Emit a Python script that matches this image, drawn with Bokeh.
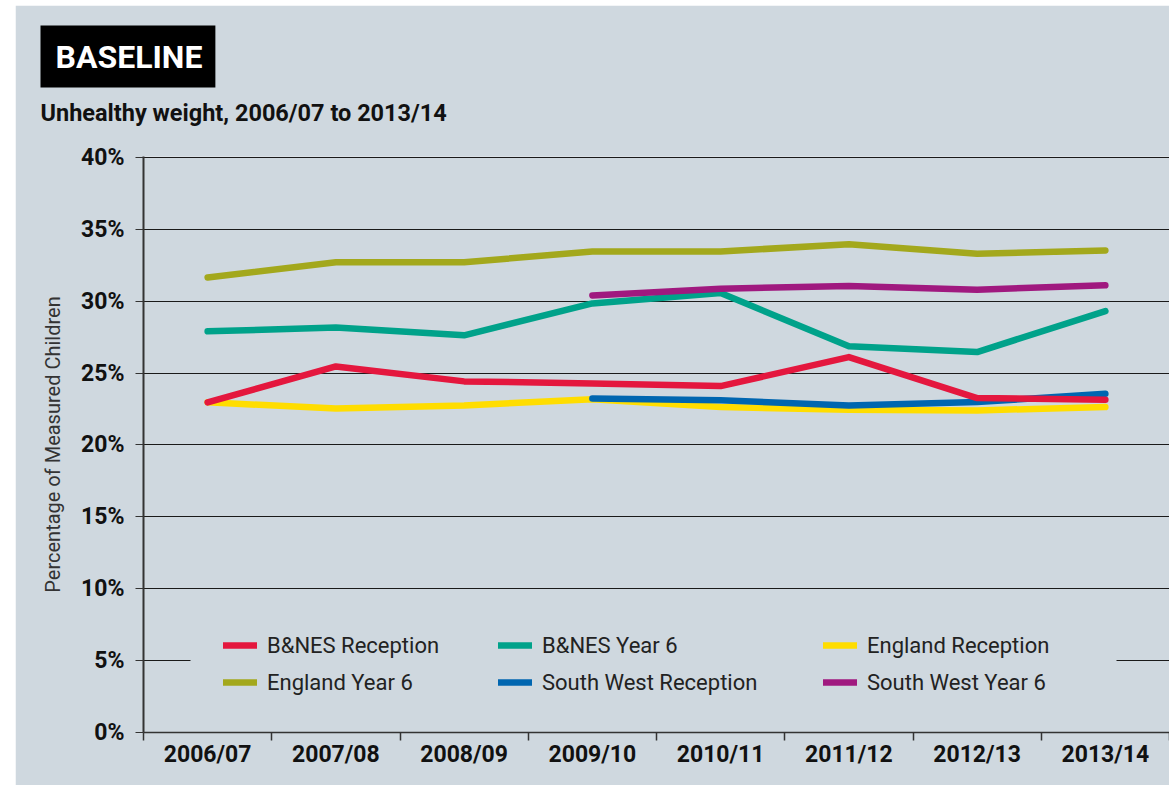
from bokeh.plotting import figure
from bokeh.models import (Range1d, FixedTicker, Legend, LegendItem, Title,
                          BoxAnnotation, PrintfTickFormatter)
from bokeh.embed import file_html
from bokeh.resources import INLINE

nan = float("nan")

# ---- data -------------------------------------------------------------
years = ["2006/07", "2007/08", "2008/09", "2009/10",
         "2010/11", "2011/12", "2012/13", "2013/14"]
bnes_reception = [22.96, 25.46, 24.42, 24.28, 24.09, 26.11, 23.26, 23.14]
bnes_year6 = [27.90, 28.17, 27.62, 29.84, 30.56, 26.87, 26.46, 29.31]
england_reception = [22.96, 22.54, 22.75, 23.17, 22.63, 22.45, 22.40, 22.63]
england_year6 = [31.65, 32.70, 32.70, 33.46, 33.46, 33.95, 33.30, 33.53]
sw_reception = [nan, nan, nan, 23.23, 23.10, 22.75, 22.98, 23.56]
sw_year6 = [nan, nan, nan, 30.40, 30.87, 31.05, 30.80, 31.10]
y_ticks = [0, 5, 10, 15, 20, 25, 30, 35, 40]

title_text = "BASELINE"
subtitle_text = "Unhealthy weight, 2006/07 to 2013/14"

BG = "#cfd8df"
FONT = "Roboto"

x = list(range(len(years)))

p = figure(width=1154, height=780, output_backend="svg", toolbar_location=None,
           x_range=Range1d(-0.5, len(years) - 0.5), y_range=Range1d(0, 40.06),
           min_border_left=128, min_border_right=0, min_border_top=0,
           min_border_bottom=53)
p.margin = (5, 0, 0, 15)
p.background_fill_color = BG
p.border_fill_color = BG
p.outline_line_color = None

# ---- titles (stacked above the frame, first = nearest) -----------------
# spacer between frame and subtitle
p.add_layout(Title(text=" ", align="left", standoff=15,
                   text_font=FONT, text_font_size="10px"), "above")
p.add_layout(Title(text=subtitle_text, align="left", offset=-103,
                   vertical_align="top", standoff=0,
                   text_font=FONT, text_font_size="23.5px",
                   text_font_style="bold", text_color="#111111"), "above")
p.add_layout(Title(text=title_text, align="left", offset=-103,
                   vertical_align="bottom", standoff=22,
                   text_font=FONT, text_font_size="32px",
                   text_font_style="bold", text_color="white",
                   background_fill_color="black",
                   padding=dict(left=15, right=13, top=12, bottom=12)), "above")
# spacer at the very top
p.add_layout(Title(text=" ", align="left", standoff=0,
                   text_font=FONT, text_font_size="4px"), "above")

# ---- axes -------------------------------------------------------------
p.xaxis.ticker = FixedTicker(ticks=x, minor_ticks=[i - 0.5 for i in range(len(years) + 1)])
p.xaxis.major_label_overrides = {i: yr for i, yr in enumerate(years)}
p.xaxis.major_tick_out = 0
p.xaxis.major_tick_in = 0
p.xaxis.minor_tick_out = 8
p.xaxis.minor_tick_in = 0
p.xaxis.minor_tick_line_color = "#333333"
p.xaxis.minor_tick_line_width = 1.5
p.xaxis.major_label_standoff = 0
p.xaxis.major_label_text_font = FONT
p.xaxis.major_label_text_font_size = "23px"
p.xaxis.major_label_text_font_style = "bold"
p.xaxis.major_label_text_color = "#111111"
p.xaxis.axis_line_color = "#333333"
p.xaxis.axis_line_width = 1.5

p.yaxis.ticker = FixedTicker(ticks=y_ticks)
p.yaxis.formatter = PrintfTickFormatter(format="%d%%")
p.yaxis.major_tick_out = 8
p.yaxis.major_tick_in = 0
p.yaxis.minor_tick_out = 0
p.yaxis.minor_tick_in = 0
p.yaxis.major_tick_line_color = "#333333"
p.yaxis.major_label_standoff = 11
p.yaxis.major_label_text_font = FONT
p.yaxis.major_label_text_font_size = "23px"
p.yaxis.major_label_text_font_style = "bold"
p.yaxis.major_label_text_color = "#111111"
p.yaxis.axis_line_color = "#333333"
p.yaxis.axis_line_width = 2
p.yaxis.axis_label = "Percentage of Measured Children"
p.yaxis.axis_label_text_font = FONT
p.yaxis.axis_label_text_font_size = "20px"
p.yaxis.axis_label_text_font_style = "normal"
p.yaxis.axis_label_text_color = "#333333"
p.yaxis.axis_label_standoff = 13

p.xgrid.visible = False
p.ygrid.ticker = FixedTicker(ticks=y_ticks)
p.ygrid.grid_line_color = "#1a1a1a"
p.ygrid.grid_line_width = 1.2

# ---- lines ------------------------------------------------------------
lw = 6.5
kw = dict(line_width=lw, line_cap="round", line_join="round")
r_er = p.line(x, england_reception, color="#ffdd00", **kw)
r_e6 = p.line(x, england_year6, color="#a3a81c", **kw)
r_b6 = p.line(x, bnes_year6, color="#00a28a", **kw)
r_swr = p.line(x, sw_reception, color="#0066b0", **kw)
r_br = p.line(x, bnes_reception, color="#e4173e", **kw)
r_sw6 = p.line(x, sw_year6, color="#a0197f", **kw)

# ---- legend -----------------------------------------------------------
backdrop = BoxAnnotation(left=47, right=973, bottom=15, top=122,
                         left_units="screen", right_units="screen",
                         bottom_units="screen", top_units="screen",
                         fill_color=BG, fill_alpha=1.0, line_alpha=0)
p.add_layout(backdrop)

cols = [
    [("B&NES Reception", r_br), ("England Year 6", r_e6)],
    [("B&NES Year 6", r_b6), ("South West Reception", r_swr)],
    [("England Reception", r_er), ("South West Year 6", r_sw6)],
]
col_x = [80, 355, 680]
for cx, items in zip(col_x, cols):
    leg = Legend(items=[LegendItem(label=lab, renderers=[r]) for lab, r in items],
                 location=(cx, 35), orientation="vertical",
                 background_fill_alpha=0, border_line_alpha=0,
                 padding=0, margin=0, spacing=7,
                 label_height=30, glyph_height=30, glyph_width=34,
                 label_standoff=10,
                 label_text_font=FONT, label_text_font_size="22px",
                 label_text_color="#222222")
    p.add_layout(leg)

open("out.html", "w").write(file_html(p, INLINE))
